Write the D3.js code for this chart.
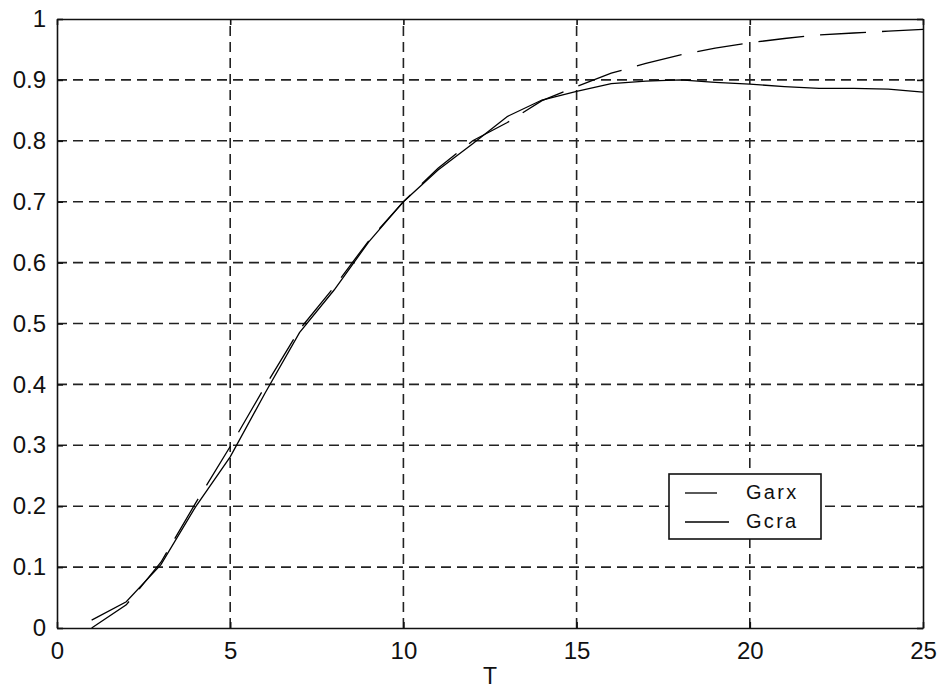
<!DOCTYPE html>
<html>
<head>
<meta charset="utf-8">
<script src="https://cdn.jsdelivr.net/npm/d3@7"></script>
<style>
  html, body { margin: 0; padding: 0; background: #fff; }
  svg text { font-family: "Liberation Sans", Arial, sans-serif; fill: #111; }
</style>
</head>
<body>
<svg id="chart" width="937" height="691"></svg>
<script>
// Step index T
const T = [1, 2, 3, 4, 5, 6, 7, 8, 9, 10, 11, 12, 13, 14, 15, 16, 17, 18, 19, 20, 21, 22, 23, 24, 25];

// Garx series (dashed)
const garx = [0.000, 0.038, 0.108, 0.205, 0.298, 0.396, 0.490, 0.560, 0.636, 0.700, 0.755, 0.800, 0.830, 0.866, 0.889, 0.911, 0.927, 0.941, 0.952, 0.961, 0.968, 0.974, 0.977, 0.980, 0.983];

// Gcra series (solid)
const gcra = [0.013, 0.043, 0.104, 0.199, 0.281, 0.385, 0.485, 0.555, 0.634, 0.700, 0.752, 0.795, 0.840, 0.867, 0.881, 0.894, 0.898, 0.900, 0.896, 0.893, 0.889, 0.886, 0.886, 0.885, 0.880];

const xTicks = [0, 5, 10, 15, 20, 25];
const yTicks = [0, 0.1, 0.2, 0.3, 0.4, 0.5, 0.6, 0.7, 0.8, 0.9, 1];
const xLabel = "T";
const seriesNames = ["Garx", "Gcra"];

const svg = d3.select("#chart");
const plotL = 57, plotR = 923, plotT = 19, plotB = 628;

const x = d3.scaleLinear().domain([0, 25]).range([plotL, plotR]);
const y = d3.scaleLinear().domain([0, 1]).range([plotB, plotT]);

// grid
const grid = svg.append("g");
grid.selectAll("line.gx").data(xTicks.slice(1, -1)).join("line")
  .attr("x1", d => x(d)).attr("x2", d => x(d))
  .attr("y1", plotB).attr("y2", plotT)
  .attr("stroke", "#222").attr("stroke-width", 1.6)
  .attr("stroke-dasharray", "10,6");
grid.selectAll("line.gy").data(yTicks.slice(1, -1)).join("line")
  .attr("y1", d => y(d)).attr("y2", d => y(d))
  .attr("x1", plotL).attr("x2", plotR)
  .attr("stroke", "#222").attr("stroke-width", 1.6)
  .attr("stroke-dasharray", "10,6");

// axes (inward ticks, box frame)
const axB = svg.append("g").attr("transform", `translate(0,${plotB})`)
  .call(d3.axisBottom(x).tickValues(xTicks).tickSizeInner(-6).tickSizeOuter(0).tickPadding(14).tickFormat(d3.format("d")));
const axL = svg.append("g").attr("transform", `translate(${plotL},0)`)
  .call(d3.axisLeft(y).tickValues(yTicks).tickSizeInner(-6).tickSizeOuter(0).tickPadding(11).tickFormat(d => d === 0 || d === 1 ? d3.format("d")(d) : d3.format(".1f")(d)));
const axT = svg.append("g").attr("transform", `translate(0,${plotT})`)
  .call(d3.axisTop(x).tickValues(xTicks).tickSizeInner(-6).tickSizeOuter(0).tickFormat(""));
const axR = svg.append("g").attr("transform", `translate(${plotR},0)`)
  .call(d3.axisRight(y).tickValues(yTicks).tickSizeInner(-6).tickSizeOuter(0).tickFormat(""));

[axB, axL, axT, axR].forEach(a => {
  a.select(".domain").attr("stroke", "#111").attr("stroke-width", 1.6);
  a.selectAll(".tick line").attr("stroke", "#111").attr("stroke-width", 1.6);
  a.selectAll("text").attr("font-size", 24).attr("fill", "#111")
    .attr("font-family", "'Liberation Sans', Arial, sans-serif");
});
axB.selectAll("text").attr("dy", "0.71em");

svg.append("text").attr("x", (plotL + plotR) / 2).attr("y", 684)
  .attr("text-anchor", "middle").attr("font-size", 23).text(xLabel);

// curves
const line = d3.line().x((d, i) => x(T[i])).y(d => y(d));

svg.append("path").datum(garx).attr("d", line)
  .attr("fill", "none").attr("stroke", "#000").attr("stroke-width", 1.3)
  .attr("stroke-dasharray", "46,16");
svg.append("path").datum(gcra).attr("d", line)
  .attr("fill", "none").attr("stroke", "#000").attr("stroke-width", 1.3);

// legend
const lg = svg.append("g");
lg.append("rect").attr("x", 669).attr("y", 474).attr("width", 152).attr("height", 65)
  .attr("fill", "#fff").attr("stroke", "#111").attr("stroke-width", 1.6);
const rows = [
  { name: seriesNames[0], yy: 493, ty: 499, dash: "32,14" },
  { name: seriesNames[1], yy: 522, ty: 528, dash: null }
];
rows.forEach(r => {
  lg.append("line").attr("x1", 685).attr("x2", 729).attr("y1", r.yy).attr("y2", r.yy)
    .attr("stroke", "#000").attr("stroke-width", 1.3)
    .attr("stroke-dasharray", r.dash);
  lg.append("text").attr("x", 746).attr("y", r.ty).attr("font-size", 20)
    .attr("letter-spacing", 2.3).text(r.name);
});
</script>
</body>
</html>
